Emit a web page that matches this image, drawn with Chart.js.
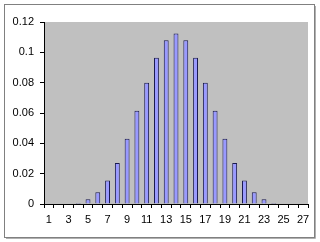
<!DOCTYPE html>
<html>
<head>
<meta charset="utf-8">
<script src="https://cdn.jsdelivr.net/npm/chart.js@4"></script>
<style>
  html, body { margin: 0; padding: 0; background: #fff; }
  #wrap { width: 320px; height: 242px; position: relative; }
</style>
</head>
<body>
<div id="wrap"><canvas id="distChart"></canvas></div>
<script>
const categories = ["1", "2", "3", "4", "5", "6", "7", "8", "9", "10", "11", "12", "13", "14",
  "15", "16", "17", "18", "19", "20", "21", "22", "23", "24", "25", "26", "27"];
const probs = [0, 0, 0, 0.0007, 0.0032, 0.0077, 0.0155, 0.027, 0.043, 0.0615, 0.08, 0.0965, 0.108, 0.1125,
  0.108, 0.0965, 0.08, 0.0615, 0.043, 0.027, 0.0155, 0.0077, 0.0032, 0.0007, 0, 0, 0];
const yTickLabels = ["0", "0.02", "0.04", "0.06", "0.08", "0.1", "0.12"];

// gray plot area + outer frame, excel style
const frame = {
  id: "frame",
  beforeDraw(chart) {
    const { ctx, chartArea: a } = chart;
    ctx.save();
    ctx.fillStyle = "#c0c0c0";
    ctx.fillRect(a.left, a.top, a.right - a.left, a.bottom - a.top);
    ctx.strokeStyle = "#808080";
    ctx.lineWidth = 1;
    ctx.strokeRect(4.5, 4.5, 310, 233);
    ctx.strokeStyle = "#b0b0b0";
    ctx.beginPath();
    ctx.moveTo(315.5, 6);
    ctx.lineTo(315.5, 238.5);
    ctx.lineTo(6, 238.5);
    ctx.stroke();
    ctx.restore();
  },
};

const ctx = document.getElementById("distChart").getContext("2d");
const distChart = new Chart(ctx, {
  type: "bar",
  data: {
    labels: categories,
    datasets: [
      {
        data: probs,
        backgroundColor: "#9999ff",
        borderColor: "#1a1a50",
        borderWidth: 1,
        borderSkipped: "bottom",
        barPercentage: 0.5,
        categoryPercentage: 1,
      },
    ],
  },
  options: {
    responsive: true,
    maintainAspectRatio: false,
    animation: false,
    layout: { padding: { left: 0, top: 22, right: 12, bottom: 0 } },
    plugins: {
      legend: { display: false },
      tooltip: { enabled: false },
    },
    scales: {
      x: {
        afterFit: (s) => { s.height = 38; },
        grid: { display: true, offset: true, drawOnChartArea: false, tickLength: 4, color: "#000" },
        border: { display: true, color: "#000" },
        ticks: {
          autoSkip: false,
          maxRotation: 0,
          padding: 5,
          color: "#000",
          font: { family: "Liberation Sans", size: 11 },
          callback: (v, i) => (i % 2 === 0 ? categories[i] : ""),
        },
      },
      y: {
        min: 0,
        max: 0.12,
        afterFit: (s) => { s.width = 44; },
        grid: { display: true, drawOnChartArea: false, tickLength: 4, color: "#000" },
        border: { display: true, color: "#000" },
        ticks: {
          stepSize: 0.02,
          padding: 6,
          color: "#000",
          font: { family: "Liberation Sans", size: 11 },
          callback: (v, i) => yTickLabels[i],
        },
      },
    },
  },
  plugins: [frame],
});
</script>
</body>
</html>
